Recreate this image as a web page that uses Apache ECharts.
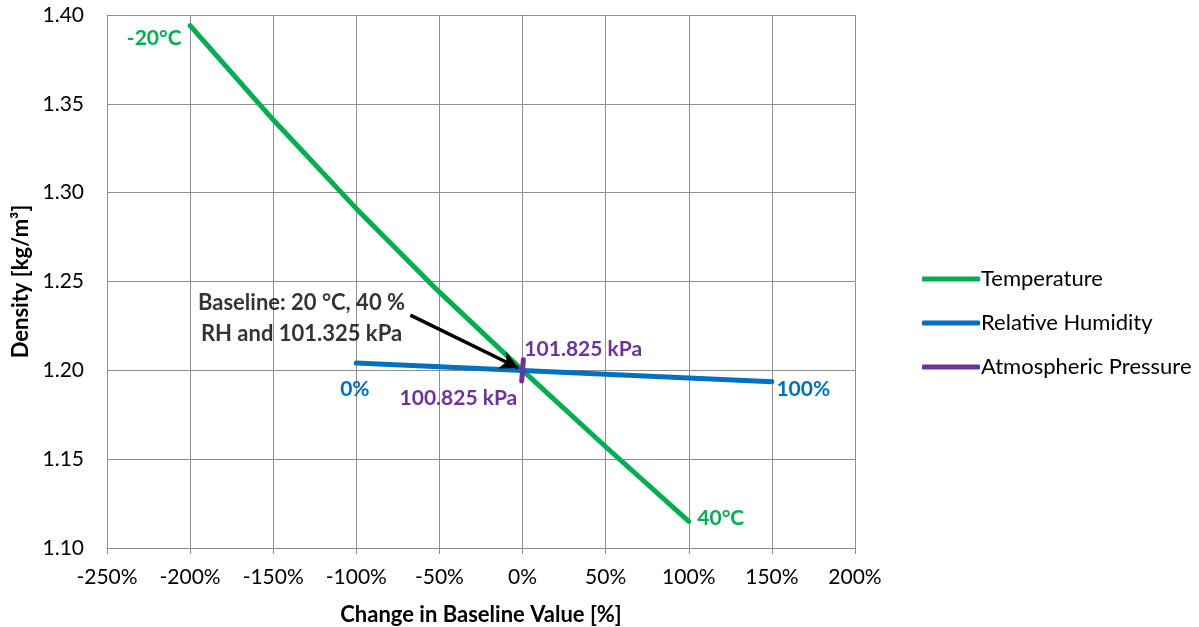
<!DOCTYPE html>
<html><head><meta charset="utf-8">
<script src="https://cdn.jsdelivr.net/npm/echarts@6/dist/echarts.min.js"></script>
<style>html,body{margin:0;padding:0;background:#fff}#c{width:1199px;height:627px}</style>
</head><body><div id="c"></div>
<script>
// ---- data ----
const xTicks = [-250, -200, -150, -100, -50, 0, 50, 100, 150, 200];
const yTicks = [1.10, 1.15, 1.20, 1.25, 1.30, 1.35, 1.40];
const tempX = [-200, -150, -100, -50, 0, 50, 100];
const tempY = [1.394, 1.341, 1.291, 1.244, 1.200, 1.157, 1.115];
const tempLabels = ['-20°C', '', '', '', '', '', '40°C'];
const rhX = [-100, 0, 150];
const rhY = [1.2041, 1.1999, 1.1936];
const rhLabels = ['0%', '', '100%'];
const presX = [-0.49, 0.49];
const presY = [1.1940, 1.2060];
const presLabels = ['100.825 kPa', '101.825 kPa'];
const baselineText = 'Baseline: 20 °C, 40 %\nRH and 101.325 kPa';
const baselineTextPos = [-133, 1.2295];
const arrowFrom = [-67.5, 1.2311];
const arrowTo = [-2.5, 1.2013];
const seriesNames = ['Temperature', 'Relative Humidity', 'Atmospheric Pressure'];
const colors = ['#00b050', '#0070c0', '#7030a0'];

const FONT = 'Lato';
const chart = echarts.init(document.getElementById('c'), null, {renderer: 'canvas'});

function pts(xs, ys) { return xs.map((x, i) => [x, ys[i]]); }
function lbl(text, pos, align) {
  return {show: true, formatter: text, position: pos, align, verticalAlign: 'middle'};
}

const tempData = pts(tempX, tempY).map((p, i) => {
  const o = {value: p};
  if (i === 0) o.label = lbl(tempLabels[i], [-8, 13.5], 'right');
  if (i === tempX.length - 1) o.label = lbl(tempLabels[i], [9, -3], 'left');
  return o;
});
const rhData = pts(rhX, rhY).map((p, i) => {
  const o = {value: p};
  if (i === 0) o.label = lbl(rhLabels[i], [-1, 26.5], 'center');
  if (i === rhX.length - 1) o.label = lbl(rhLabels[i], [5, 8.5], 'left');
  return o;
});
const presData = pts(presX, presY).map((p, i) => {
  const o = {value: p};
  if (i === 0) o.label = lbl(presLabels[i], [-4, 17.5], 'right');
  if (i === 1) o.label = lbl(presLabels[i], [1.5, -10], 'left');
  return o;
});

function lineSeries(name, data, color) {
  return {
    name, type: 'line', data, showSymbol: true, symbol: 'circle', symbolSize: 1,
    itemStyle: {color},
    lineStyle: {color, width: 5, cap: 'round', join: 'round'},
    label: {show: false, color, fontFamily: FONT, fontWeight: 'bold', fontSize: 21},
    labelLayout: {hideOverlap: false},
    emphasis: {disabled: true}, animation: false, z: 3
  };
}

const option = {
  animation: false,
  textStyle: {fontFamily: FONT},
  grid: {left: 107, right: 344, top: 15, bottom: 79, containLabel: false, outerBoundsMode: 'none'},
  xAxis: {
    type: 'value', min: xTicks[0], max: xTicks[xTicks.length - 1], interval: 50,
    name: 'Change in Baseline Value [%]', nameLocation: 'middle', nameGap: 56,
    nameTextStyle: {fontFamily: FONT, fontWeight: 'bold', fontSize: 22, color: '#000'},
    axisLine: {show: true, lineStyle: {color: '#8e8e8e', width: 1}},
    axisTick: {show: true, length: 6, lineStyle: {color: '#8e8e8e'}},
    axisLabel: {formatter: '{value}%', fontFamily: FONT, fontSize: 21, color: '#000', margin: 19},
    splitLine: {show: true, lineStyle: {color: '#8e8e8e', width: 1}}
  },
  yAxis: {
    type: 'value', min: yTicks[0], max: yTicks[yTicks.length - 1], interval: 0.05,
    name: 'Density [kg/m³]', nameLocation: 'middle', nameGap: 75, nameRotate: 90,
    nameTextStyle: {fontFamily: FONT, fontWeight: 'bold', fontSize: 22, color: '#000'},
    axisLine: {show: true, lineStyle: {color: '#8e8e8e', width: 1}},
    axisTick: {show: false},
    axisLabel: {formatter: v => v.toFixed(2), fontFamily: FONT, fontSize: 21, color: '#000', margin: 23},
    splitLine: {show: true, lineStyle: {color: '#8e8e8e', width: 1}}
  },
  legend: {
    orient: 'vertical', left: 917, top: 263, itemGap: 22,
    itemWidth: 58, itemHeight: 5, icon: 'roundRect',
    data: seriesNames.map((n, i) => ({name: n, icon: 'roundRect', itemStyle: {color: colors[i], opacity: 1}})),
    textStyle: {fontFamily: FONT, fontSize: 22, color: '#000', padding: [0, 0, 0, -4]},
    selectedMode: false
  },
  series: [
    lineSeries(seriesNames[0], tempData, colors[0]),
    lineSeries(seriesNames[1], rhData, colors[1]),
    lineSeries(seriesNames[2], presData, colors[2]),
    {
      name: 'annotation', type: 'scatter', data: [baselineTextPos], symbolSize: 0,
      silent: true, z: 5, animation: false,
      label: {show: true, position: 'inside', formatter: baselineText, color: '#000',
              fontFamily: FONT, fontWeight: 'bold', fontSize: 22, lineHeight: 31, align: 'center'},
      markLine: {
        silent: true, symbol: ['none', 'arrow'], symbolSize: [14, 18], animation: false,
        label: {show: false},
        lineStyle: {color: '#000', width: 3.5, type: 'solid'},
        data: [[{coord: arrowFrom}, {coord: arrowTo}]]
      }
    }
  ]
};
chart.setOption(option);
</script>
</body></html>
